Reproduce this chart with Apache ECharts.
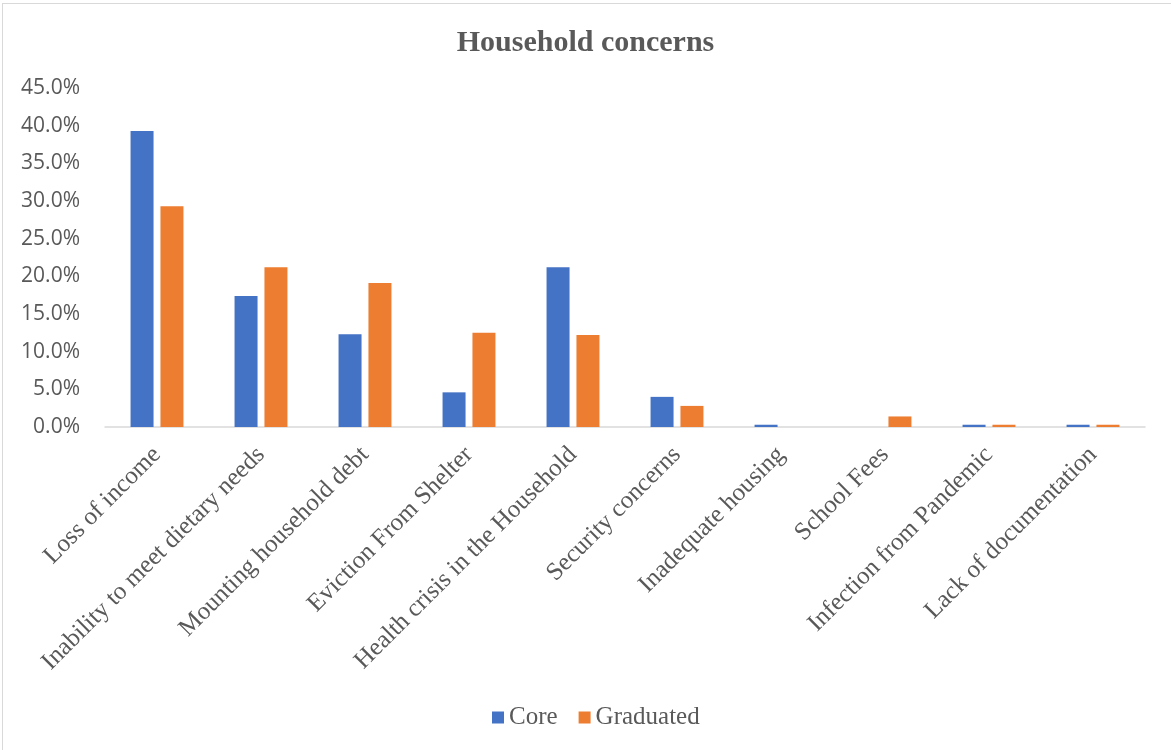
<!DOCTYPE html>
<html>
<head>
<meta charset="utf-8">
<title>Household concerns</title>
<script src="https://cdn.jsdelivr.net/npm/echarts@6/dist/echarts.min.js"></script>
<style>
  html, body { margin: 0; padding: 0; background: #ffffff; overflow: hidden; }
  #frame { position: absolute; left: 2px; top: 3px; width: 1200px; height: 780px;
           border: 1px solid #d9d9d9; box-sizing: border-box; }
  #chart { position: absolute; left: 0; top: 0; width: 1171px; height: 750px; }
</style>
</head>
<body>
<div id="frame"></div>
<div id="chart"></div>
<script>
// Household concerns reported, share of households (%)
const categories = [
  'Loss of income',
  'Inability to meet dietary needs',
  'Mounting household debt',
  'Eviction From Shelter',
  'Health crisis in the Household',
  'Security concerns',
  'Inadequate housing',
  'School Fees',
  'Infection from Pandemic',
  'Lack of documentation'
];
const coreValues      = [39.3, 17.4, 12.3, 4.6, 21.2, 4.0, 0.3, 0.0, 0.3, 0.3];
const graduatedValues = [29.3, 21.2, 19.1, 12.5, 12.2, 2.8, 0.0, 1.4, 0.3, 0.3];
const seriesNames = ['Core', 'Graduated'];
const yMax = 45;
const yStep = 5;

const textGrey = '#595959';
const serif = '"Liberation Serif", "Times New Roman", serif';
const sans = '"Open Sans", "Noto Sans", sans-serif';

const chart = echarts.init(document.getElementById('chart'), null, { renderer: 'canvas' });

chart.setOption({
  animation: false,
  backgroundColor: 'transparent',
  title: {
    text: 'Household concerns',
    left: 'center',
    top: 23,
    textStyle: { fontFamily: serif, fontSize: 30, fontWeight: 'bold', color: textGrey }
  },
  legend: {
    data: seriesNames,
    bottom: 15,
    left: 487,
    itemWidth: 12,
    itemHeight: 12,
    itemGap: 21,
    icon: 'rect',
    textStyle: { fontFamily: serif, fontSize: 25, color: textGrey }
  },
  grid: { left: 105, right: 26, top: 88, bottom: 323, containLabel: false },
  xAxis: {
    type: 'category',
    data: categories,
    axisTick: { show: false },
    axisLine: { lineStyle: { color: '#d9d9d9', width: 1.5 } },
    axisLabel: {
      interval: 0,
      rotate: 45,
      margin: 24,
      fontFamily: serif,
      fontSize: 25,
      color: textGrey
    }
  },
  yAxis: {
    type: 'value',
    min: 0,
    max: yMax,
    interval: yStep,
    axisLine: { show: false },
    axisTick: { show: false },
    splitLine: { show: false },
    axisLabel: {
      margin: 25,
      fontFamily: sans,
      fontSize: 21,
      color: textGrey,
      formatter: v => v.toFixed(1) + '%'
    }
  },
  series: [
    {
      name: seriesNames[0],
      type: 'bar',
      data: coreValues,
      barWidth: 23,
      barGap: '30%',
      itemStyle: { color: '#4472c4' }
    },
    {
      name: seriesNames[1],
      type: 'bar',
      data: graduatedValues,
      barWidth: 23,
      barGap: '30%',
      itemStyle: { color: '#ed7d31' }
    }
  ]
});
</script>
</body>
</html>
